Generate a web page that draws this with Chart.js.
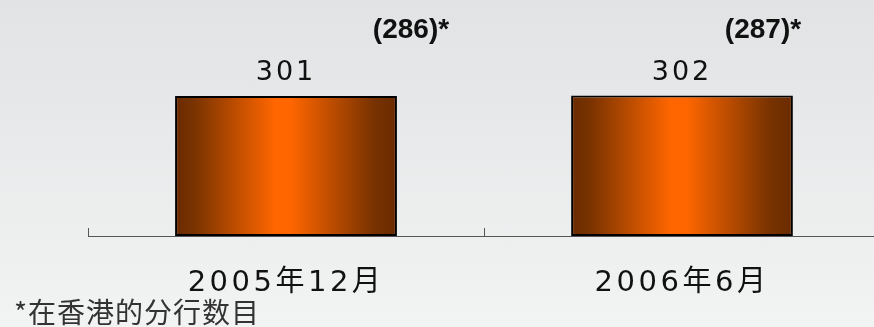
<!DOCTYPE html>
<html>
<head>
<meta charset="utf-8">
<script src="https://cdn.jsdelivr.net/npm/chart.js@4"></script>
<style>
  html, body { margin: 0; padding: 0; overflow: hidden; }
  body { width: 874px; height: 327px; background: linear-gradient(#e1e3e4, #f2f3f3); position: relative; }
  #wrap { position: absolute; left: 0; top: 0; width: 882px; height: 327px; }
  #note {
    position: absolute; left: 14px; top: 296px;
    font-family: "Noto Sans CJK SC", sans-serif; font-size: 28px; line-height: 30px;
    letter-spacing: 1px; color: #333;
  }
</style>
</head>
<body>
<div id="wrap"><canvas id="myChart"></canvas></div>
<div id="note">*在香港的分行数目</div>
<script>
// branch totals, with the Hong Kong-only count in brackets
const categories = ['2005年12月', '2006年6月'];
const branches = [301, 302];
const hkBranches = [286, 287];

// horizontal nudge of the bracketed note from each bar's centre
const noteShift = [125, 81];

function barGradient(context) {
    const chart = context.chart;
    const xs = chart.scales.x;
    if (!xs || !chart.chartArea) return '#ff6600';
    const cx = xs.getPixelForValue(context.dataIndex);
    const w = xs.width / xs.ticks.length * 0.56;
    const g = chart.ctx.createLinearGradient(cx - w / 2, 0, cx + w / 2, 0);
    g.addColorStop(0, '#6a2b00');
    g.addColorStop(0.08, '#773200');
    g.addColorStop(0.45, '#ff6600');
    g.addColorStop(0.52, '#ff6600');
    g.addColorStop(0.9, '#773200');
    g.addColorStop(1, '#6a2b00');
    return g;
}

const spacing = {
    id: 'spacing',
    beforeDraw(chart) {
        chart.ctx.letterSpacing = '3.5px';
    }
};

const valueLabels = {
    id: 'valueLabels',
    afterDatasetsDraw(chart) {
        const ctx = chart.ctx;
        const meta = chart.getDatasetMeta(0);
        ctx.save();
        meta.data.forEach(function(bar, i) {
            ctx.textAlign = 'center';
            ctx.textBaseline = 'alphabetic';
            ctx.fillStyle = '#111';
            ctx.letterSpacing = '3px';
            ctx.font = '27px "DejaVu Sans", sans-serif';
            ctx.fillText(String(branches[i]), bar.x, bar.y - 16);

            ctx.letterSpacing = '0px';
            ctx.font = 'bold 28px "Liberation Sans", Arial, sans-serif';
            ctx.fillText('(' + hkBranches[i] + ')*', bar.x + noteShift[i], 38);
        });
        ctx.restore();
    }
};

document.addEventListener('DOMContentLoaded', function() {
    const ctx = document.getElementById('myChart');
    new Chart(ctx, {
        type: 'bar',
        data: {
            labels: categories,
            datasets: [{
                data: branches,
                backgroundColor: barGradient,
                borderColor: '#000',
                borderWidth: 2,
                borderSkipped: false,
                categoryPercentage: 0.56,
                barPercentage: 1
            }]
        },
        options: {
            responsive: true,
            maintainAspectRatio: false,
            animation: false,
            layout: { padding: { left: 88, right: 2, top: 50, bottom: 0 } },
            plugins: {
                legend: { display: false },
                tooltip: { enabled: false }
            },
            scales: {
                x: {
                    afterFit: function(scale) { scale.height = 91; },
                    grid: {
                        offset: true,
                        drawOnChartArea: false,
                        drawTicks: true,
                        tickLength: -8,
                        color: '#555'
                    },
                    border: { display: true, color: '#555', width: 1 },
                    ticks: {
                        padding: 38,
                        color: '#111',
                        font: { family: '"DejaVu Sans", "Noto Sans CJK SC", sans-serif', size: 29 }
                    }
                },
                y: {
                    display: false,
                    min: 0,
                    max: 400
                }
            }
        },
        plugins: [spacing, valueLabels]
    });
});
</script>
</body>
</html>
